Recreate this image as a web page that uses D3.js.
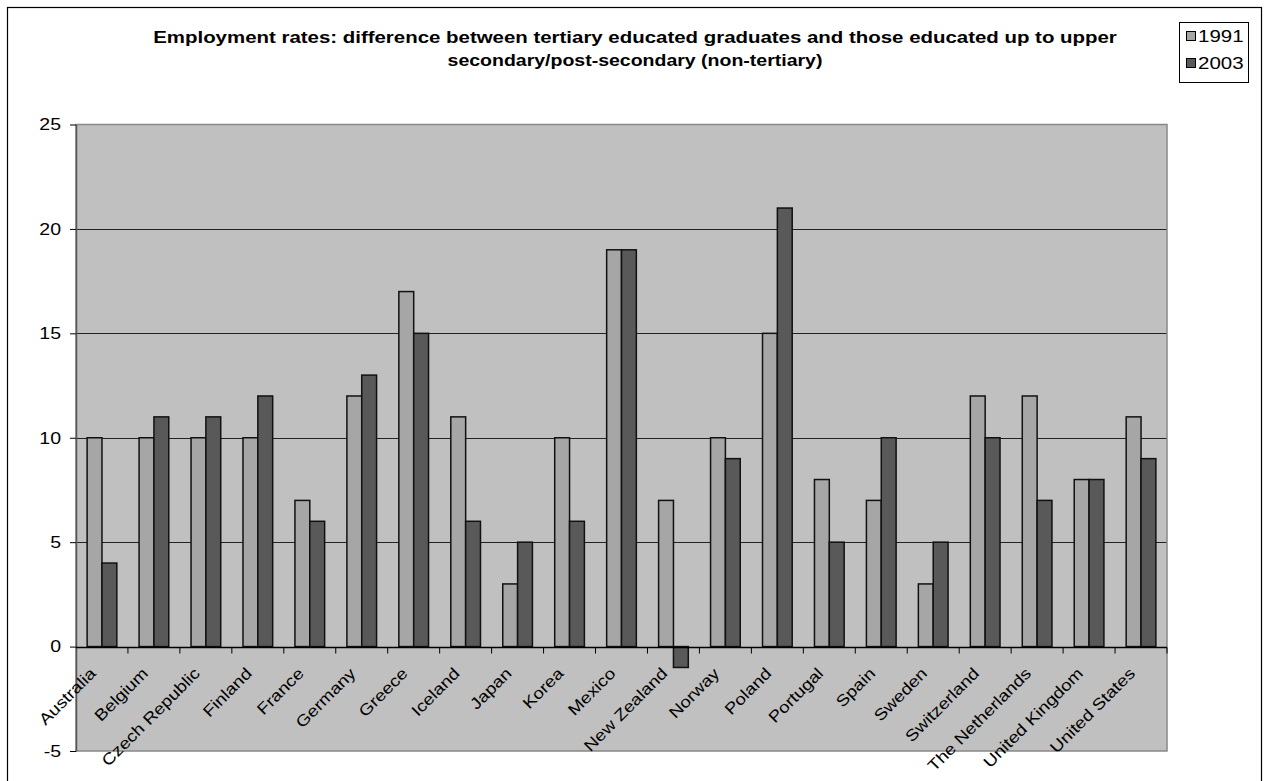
<!DOCTYPE html>
<html>
<head>
<meta charset="utf-8">
<script src="https://cdn.jsdelivr.net/npm/d3@7"></script>
<style>
  html, body { margin: 0; padding: 0; background: #fff; }
  svg { display: block; }
  text { font-family: "Liberation Sans", Arial, sans-serif; fill: #000; }
</style>
</head>
<body>
<script>
// Countries along the x axis
const countries = ["Australia", "Belgium", "Czech Republic", "Finland", "France", "Germany",
  "Greece", "Iceland", "Japan", "Korea", "Mexico", "New Zealand", "Norway", "Poland",
  "Portugal", "Spain", "Sweden", "Switzerland", "The Netherlands", "United Kingdom", "United States"];

// Percentage-point difference in employment rates
const values1991 = [10, 10, 10, 10, 7, 12, 17, 11, 3, 10, 19, 7, 10, 15, 8, 7, 3, 12, 12, 8, 11];
const values2003 = [4, 11, 11, 12, 6, 13, 15, 6, 5, 6, 19, -1, 9, 21, 5, 10, 5, 10, 7, 8, 9];

const seriesNames = ["1991", "2003"];
const seriesColors = ["#a6a6a6", "#595959"];
const yTicks = [-5, 0, 5, 10, 15, 20, 25];
const titleLines = [
  "Employment rates: difference between tertiary educated graduates and those educated up to upper",
  "secondary/post-secondary (non-tertiary)"
];

const W = 1268, H = 781;
const plot = { left: 76, right: 1167, top: 124.5, bottom: 751 };

const svg = d3.select("body").append("svg").attr("width", W).attr("height", H);

// Outer chart frame
svg.append("rect").attr("x", 7.5).attr("y", 7.5).attr("width", 1254).attr("height", 790)
  .attr("fill", "#fff").attr("stroke", "#000").attr("stroke-width", 1.2);

const x = d3.scaleBand().domain(countries).range([plot.left, plot.right]).paddingInner(0).paddingOuter(0);
const y = d3.scaleLinear().domain([-5, 25]).range([plot.bottom, plot.top]);

// Plot background
svg.append("rect").attr("x", plot.left).attr("y", plot.top)
  .attr("width", plot.right - plot.left).attr("height", plot.bottom - plot.top)
  .attr("fill", "#c0c0c0");

// Horizontal gridlines
svg.append("g").selectAll("line").data(yTicks.filter(t => t > 0 && t < 25)).join("line")
  .attr("x1", plot.left).attr("x2", plot.right)
  .attr("y1", d => Math.round(y(d)) + 0.5).attr("y2", d => Math.round(y(d)) + 0.5)
  .attr("stroke", "#222").attr("stroke-width", 1);

// Plot border
svg.append("rect").attr("x", plot.left).attr("y", plot.top)
  .attr("width", plot.right - plot.left).attr("height", plot.bottom - plot.top)
  .attr("fill", "none").attr("stroke", "#888").attr("stroke-width", 1.5);

// Bars: gap width 150% of a bar
const bw = x.bandwidth() / 3.5;
const gap = (x.bandwidth() - 2 * bw) / 2;
const seriesData = [values1991, values2003];
seriesData.forEach((vals, si) => {
  svg.append("g").selectAll("rect").data(countries).join("rect")
    .attr("x", (c) => x(c) + gap + si * bw)
    .attr("y", (c, i) => y(Math.max(0, vals[i])))
    .attr("width", bw)
    .attr("height", (c, i) => Math.abs(y(vals[i]) - y(0)))
    .attr("fill", seriesColors[si])
    .attr("stroke", "#111").attr("stroke-width", 1.5);
});

// Y axis (plain hyphen for negative values)
const yAxis = d3.axisLeft(y).tickValues(yTicks).tickFormat(d => String(d))
  .tickSize(6).tickPadding(9).tickSizeOuter(0);
const gy = svg.append("g").attr("transform", `translate(${plot.left},0)`).call(yAxis);
gy.select(".domain").attr("stroke", "#555").attr("stroke-width", 1.5);
gy.selectAll(".tick line").attr("stroke", "#000");
gy.selectAll(".tick text")
  .attr("font-size", 16).attr("font-family", "Liberation Sans, Arial, sans-serif")
  .attr("dy", null).attr("dominant-baseline", "central")
  .attr("transform", "scale(1.22,1)")
  .attr("x", -15 / 1.22);

// Category axis along zero line, ticks at category boundaries
const zeroY = Math.round(y(0)) + 0.5;
svg.append("line").attr("x1", plot.left).attr("x2", plot.right)
  .attr("y1", zeroY).attr("y2", zeroY).attr("stroke", "#000").attr("stroke-width", 1.5);
const boundaries = countries.map(c => x(c) + x.bandwidth());
svg.append("g").selectAll("line").data(boundaries).join("line")
  .attr("x1", d => d).attr("x2", d => d)
  .attr("y1", zeroY).attr("y2", zeroY + 6)
  .attr("stroke", "#000").attr("stroke-width", 1);

// Rotated category labels
svg.append("g").selectAll("text").data(countries).join("text")
  .attr("transform", c => `translate(${x(c) + x.bandwidth() / 2 - 5},${zeroY + 27}) rotate(-45) scale(1.17,1)`)
  .attr("text-anchor", "end")
  .attr("font-size", 16)
  .text(c => c);

// Title, two centred lines
const titleStretch = [1.277, 1.22];
svg.append("g").selectAll("text").data(titleLines).join("text")
  .attr("transform", (d, i) => `translate(635,${43 + i * 23}) scale(${titleStretch[i]},1)`)
  .attr("text-anchor", "middle")
  .attr("font-size", 16).attr("font-weight", "bold")
  .text(d => d);

// Legend
const lg = svg.append("g");
lg.append("rect").attr("x", 1179.5).attr("y", 22.5).attr("width", 69).attr("height", 60)
  .attr("fill", "#fff").attr("stroke", "#000").attr("stroke-width", 1);
seriesNames.forEach((name, i) => {
  lg.append("rect").attr("x", 1186.5).attr("y", 31.5 + i * 27).attr("width", 9).attr("height", 9)
    .attr("fill", seriesColors[i]).attr("stroke", "#000").attr("stroke-width", 1);
  lg.append("text").attr("transform", `translate(1198,${42 + i * 27}) scale(1.28,1)`)
    .attr("font-size", 16).text(name);
});
</script>
</body>
</html>
